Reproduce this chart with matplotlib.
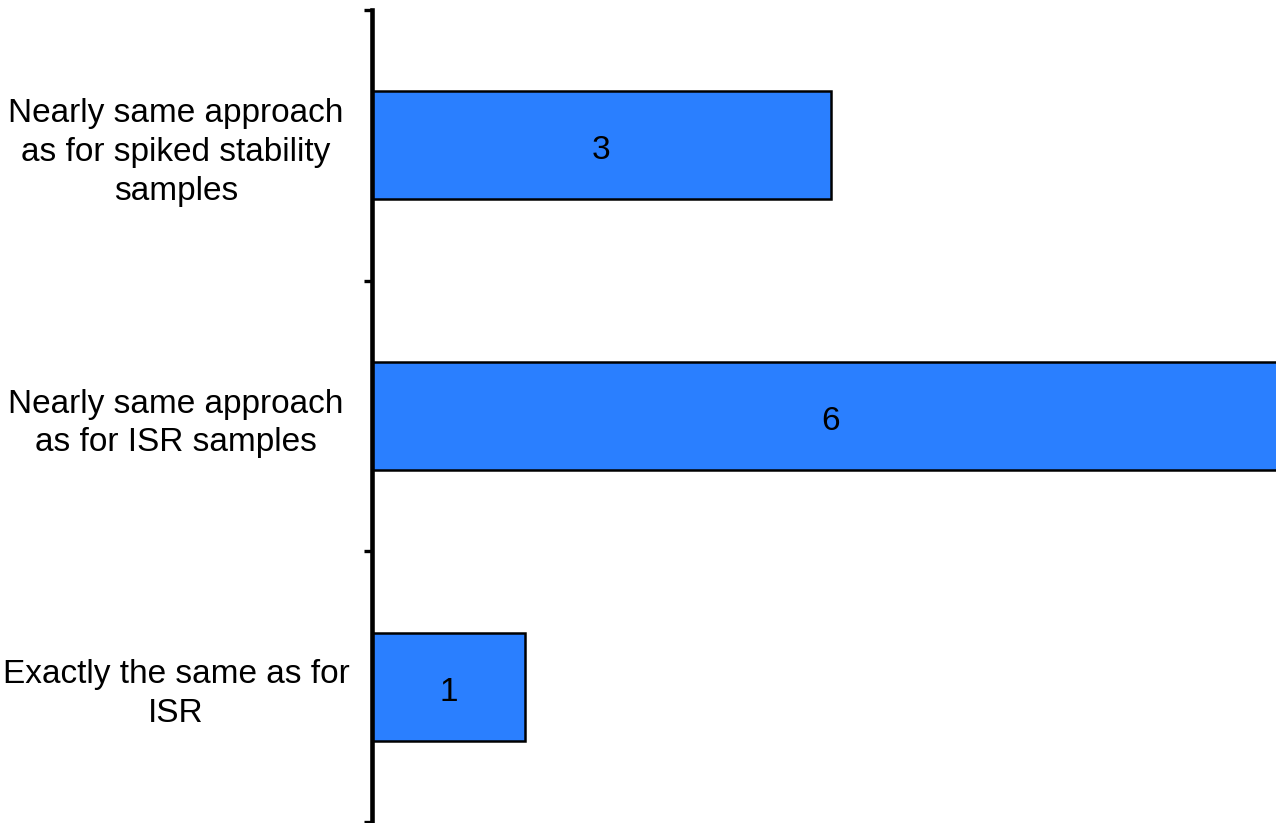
import matplotlib
matplotlib.use("Agg")
import matplotlib.pyplot as plt

categories = [
    "Exactly the same as for\nISR",
    "Nearly same approach\nas for ISR samples",
    "Nearly same approach\nas for spiked stability\nsamples",
]
counts = [1, 6, 3]

plt.rcParams["font.family"] = ["Liberation Sans", "DejaVu Sans"]

fig = plt.figure(figsize=(12.76, 8.23), dpi=100)
ax = fig.add_axes([372 / 1276, 1 / 823, 1 - 372 / 1276, 812 / 823])

pos = list(range(len(categories)))
bars = ax.barh(pos, counts, height=0.4, color="#2a7fff",
               edgecolor="black", linewidth=1.8)

for b, v in zip(bars, counts):
    ax.text(v / 2, b.get_y() + b.get_height() / 2 - 0.02,
            str(v), ha="center", va="center", fontsize=24, color="black")

ax.set_xlim(0, 5.91)
ax.set_ylim(-0.5, 2.5)

ax.set_yticks([-0.5, 0.5, 1.5, 2.5])
ax.set_yticklabels([])
ax.set_yticks(pos, minor=True)
ax.set_yticklabels(categories, minor=True, fontsize=24, ha="center",
                   multialignment="center", linespacing=1.33)
ax.tick_params(axis="y", which="major", direction="out", length=5.5, width=2.4)
ax.tick_params(axis="y", which="minor", length=0, pad=141)
ax.set_xticks([])

for s in ["top", "right", "bottom"]:
    ax.spines[s].set_visible(False)
ax.spines["left"].set_linewidth(3.3)

fig.savefig("out.png", dpi=100)
